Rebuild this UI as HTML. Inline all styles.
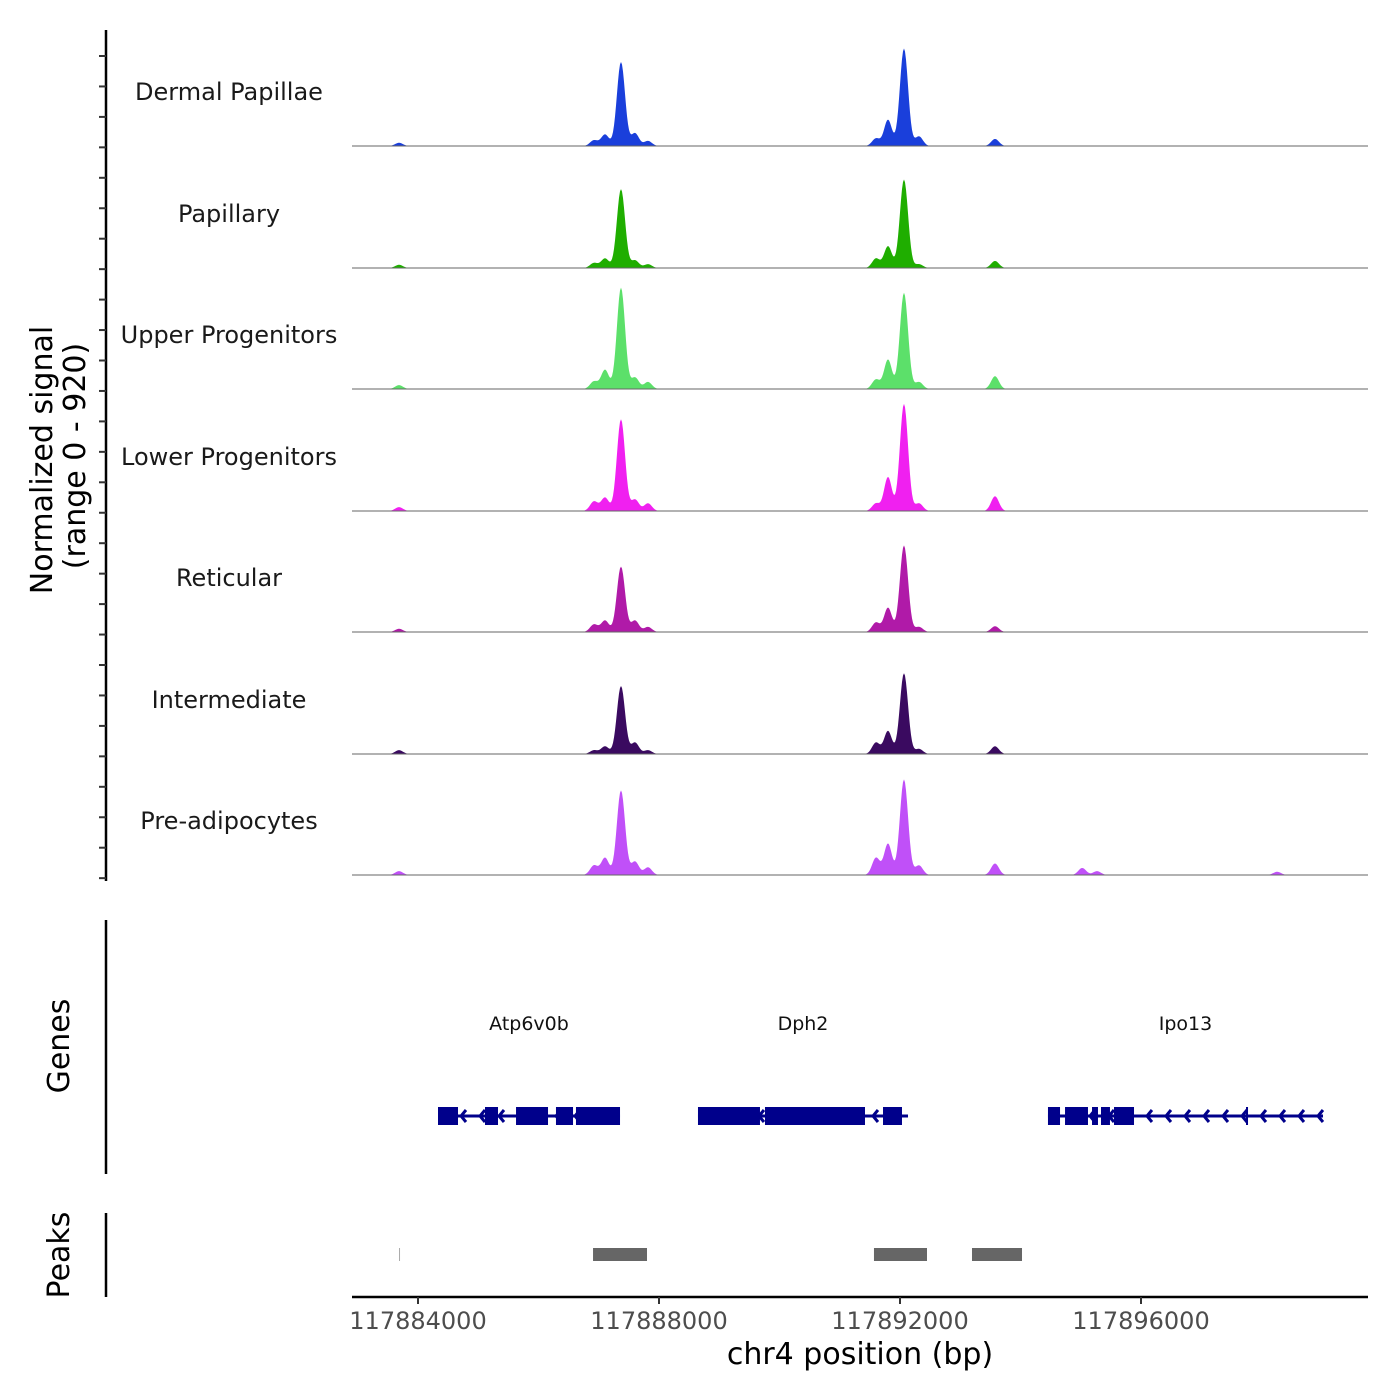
<!DOCTYPE html>
<html><head><meta charset="utf-8"><style>
html,body{margin:0;padding:0;background:#fff;}
svg{display:block;font-family:"DejaVu Sans","Liberation Sans",sans-serif;}
</style></head><body>
<svg id="chart" width="1400" height="1400" viewBox="0 0 1400 1400" xmlns="http://www.w3.org/2000/svg">
<g id="tracks"></g>
<g id="left-axis"></g>
<text transform="translate(52,460) rotate(-90)" text-anchor="middle" font-size="30">Normalized signal</text>
<text transform="translate(85,456) rotate(-90)" text-anchor="middle" font-size="30">(range 0 - 920)</text>
<g id="genes"></g>
<line x1="106" y1="920" x2="106" y2="1174" stroke="#000" stroke-width="2.5"/>
<text transform="translate(69,1046) rotate(-90)" text-anchor="middle" font-size="30">Genes</text>
<g id="peaks"></g>
<line x1="106" y1="1213" x2="106" y2="1297" stroke="#000" stroke-width="2.5"/>
<text transform="translate(69,1255) rotate(-90)" text-anchor="middle" font-size="30">Peaks</text>
<g id="xaxis"></g>
<text x="860" y="1364" text-anchor="middle" font-size="30">chr4 position (bp)</text>
</svg>
<script>
const trackNames = ["Dermal Papillae","Papillary","Upper Progenitors","Lower Progenitors","Reticular","Intermediate","Pre-adipocytes"];
const trackColors = ["#1a3fdb","#1fae00","#5ce06a","#f020f0","#b01aa8","#3a0a60","#c050f8"];
const peakPositions = [117883685,117886921,117887104,117887369,117887602,117887817,117891602,117891801,117892066,117892315,117893577,117895025,117895270,117898260];
const sigDermal = [25,45,90,655,100,40,60,205,760,75,55,0,0,0];
const sigPapillary = [25,40,75,615,60,30,75,170,690,30,55,0,0,0];
const sigUpper = [30,60,150,790,90,55,75,230,750,55,100,0,0,0];
const sigLower = [30,75,105,715,90,60,60,265,835,60,115,0,0,0];
const sigReticular = [25,60,90,510,90,40,75,190,675,40,45,0,0,0];
const sigIntermediate = [30,30,60,530,90,30,90,180,630,40,60,0,0,0];
const sigPreadipo = [30,75,135,660,105,60,135,245,745,75,90,55,30,25];
const xTicks = [117884000,117888000,117892000,117896000];
const geneNames = ["Atp6v0b","Dph2","Ipo13"];
const geneStarts = [117884332,117888647,117894456];
const geneEnds = [117887353,117892133,117899021];
const exonStarts = [[117884332,117885112,117885627,117886290,117886622],[117888647,117889759,117891718],[117894456,117894739,117895187,117895336,117895552,117897743]];
const exonEnds = [[117884664,117885328,117886158,117886573,117887353],[117889676,117891419,117892033],[117894656,117895120,117895286,117895485,117895884,117897776]];
const peakStarts = [117883685,117886905,117891568,117893195];
const peakEnds = [117883700,117887801,117892448,117894025];

const NS="http://www.w3.org/2000/svg";
const X0=352,X1=1368,BP0=117884000,PXPB=0.06025;
const xs = bp => 418 + (bp-BP0)*PXPB;
const bpMin = BP0 + (X0-418)/PXPB, bpMax = BP0 + (X1-418)/PXPB;
const YMAX=920, PH=118;
function mk(tag, attrs, parent){const e=document.createElementNS(NS,tag);for(const k in attrs)e.setAttribute(k,attrs[k]);parent.appendChild(e);return e;}
const series=[sigDermal,sigPapillary,sigUpper,sigLower,sigReticular,sigIntermediate,sigPreadipo];
const baselines=[146,268,389,511,632,754,875];
const tracksG=document.getElementById('tracks');
series.forEach((vals,t)=>{
  const base=baselines[t];
  const ys=v=>base - v/YMAX*PH;
  const g=mk('g',{},tracksG);
  
  
  let d='M'+X0+','+base;
  for(let px=X0;px<=X1;px+=1){
    const bp=bpMin+(px-X0)/PXPB;
    let v=0;
    peakPositions.forEach((p,i)=>{const s=(i===3||i===8)?68:65;const z=(bp-p)/s;v+=vals[i]*Math.exp(-0.5*z*z);});
    d+=' L'+px+','+ys(v).toFixed(2);
  }
  d+=' L'+X1+','+base+' Z';
  const path=mk('path',{d:d,fill:trackColors[t]},g);
  
  
  const bl=mk('line',{x1:X0,y1:base,x2:X1,y2:base,stroke:'#666','stroke-width':1},g);
  
  
  const lab=mk('text',{x:229,y:base-46,'text-anchor':'middle','font-size':24,fill:'#1a1a1a'},g);
  lab.textContent=trackNames[t];
  
  
});
const la=document.getElementById('left-axis');
mk('line',{x1:106,y1:30,x2:106,y2:881,stroke:'#000','stroke-width':2.5},la);
for(let y=56;y<=880;y+=30.45){
  const tk=mk('line',{x1:99,y1:y,x2:106,y2:y,stroke:'#333','stroke-width':2},la);
  
  
}
const gg=document.getElementById('genes');
const GY=1116, GC='#00008b';
geneNames.forEach((n,i)=>{
  const x1=xs(geneStarts[i]),x2=xs(geneEnds[i]);
  const lab=mk('text',{x:(x1+x2)/2,y:1030,'text-anchor':'middle','font-size':19,fill:'#111'},gg);
  lab.textContent=n;
  
  
  const ln=mk('line',{x1:x1,y1:GY,x2:x2,y2:GY,stroke:GC,'stroke-width':3},gg);
  
  
  for(let x=x1+4;x<x2-4;x+=19){
    const ch=mk('path',{d:'M'+(x+5)+','+(GY-6)+' L'+x+','+GY+' L'+(x+5)+','+(GY+6),fill:'none',stroke:GC,'stroke-width':3},gg);
    
    
  }
  exonStarts[i].forEach((s,j)=>{
    const a=xs(s),b=xs(exonEnds[i][j]);
    const r=mk('rect',{x:a,y:GY-9,width:Math.max(2,b-a),height:18,fill:GC},gg);
    
    
  });
});
const pg=document.getElementById('peaks');
peakStarts.forEach((s,i)=>{
  const a=xs(s),b=xs(peakEnds[i]);
  const r=mk('rect',{x:a,y:1248,width:Math.max(1,b-a),height:13,fill:i===0?'#aaa':'#666'},pg);
  
  
});
const xg=document.getElementById('xaxis');
mk('line',{x1:X0,y1:1297,x2:X1,y2:1297,stroke:'#000','stroke-width':2.5},xg);
xTicks.forEach(t=>{
  const x=xs(t);
  const tk=mk('line',{x1:x,y1:1297,x2:x,y2:1304,stroke:'#333','stroke-width':2},xg);
  
  
  const lb=mk('text',{x:x,y:1329,'text-anchor':'middle','font-size':24,fill:'#4d4d4d'},xg);
  lb.textContent=String(t);
  
  
});
</script>
</body></html>
